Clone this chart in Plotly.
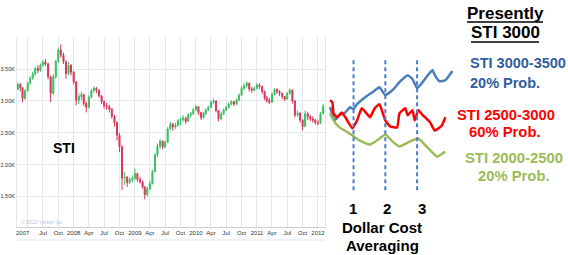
import plotly.graph_objects as go

W, H = 568, 255

def fx(px):
    return px / W

def fy(py):
    return 1 - py / H

# ---------------- STI candlestick data (semi-monthly) ----------------
dates = [
    "2007-02-01", "2007-02-16", "2007-03-01", "2007-03-16", "2007-04-01", "2007-04-16",
    "2007-05-01", "2007-05-16", "2007-06-01", "2007-06-16", "2007-07-01", "2007-07-16",
    "2007-08-01", "2007-08-16", "2007-09-01", "2007-09-16", "2007-10-01", "2007-10-16",
    "2007-11-01", "2007-11-16", "2007-12-01", "2007-12-16",
    "2008-01-01", "2008-01-16", "2008-02-01", "2008-02-16", "2008-03-01", "2008-03-16",
    "2008-04-01", "2008-04-16", "2008-05-01", "2008-05-16", "2008-06-01", "2008-06-16",
    "2008-07-01", "2008-07-16", "2008-08-01", "2008-08-16", "2008-09-01", "2008-09-16",
    "2008-10-01", "2008-10-16", "2008-11-01", "2008-11-16", "2008-12-01", "2008-12-16",
    "2009-01-01", "2009-01-16", "2009-02-01", "2009-02-16", "2009-03-01", "2009-03-16",
    "2009-04-01", "2009-04-16", "2009-05-01", "2009-05-16", "2009-06-01", "2009-06-16",
    "2009-07-01", "2009-07-16", "2009-08-01", "2009-08-16", "2009-09-01", "2009-09-16",
    "2009-10-01", "2009-10-16", "2009-11-01", "2009-11-16", "2009-12-01", "2009-12-16",
    "2010-01-01", "2010-01-16", "2010-02-01", "2010-02-16", "2010-03-01", "2010-03-16",
    "2010-04-01", "2010-04-16", "2010-05-01", "2010-05-16", "2010-06-01", "2010-06-16",
    "2010-07-01", "2010-07-16", "2010-08-01", "2010-08-16", "2010-09-01", "2010-09-16",
    "2010-10-01", "2010-10-16", "2010-11-01", "2010-11-16", "2010-12-01", "2010-12-16",
    "2011-01-01", "2011-01-16", "2011-02-01", "2011-02-16", "2011-03-01", "2011-03-16",
    "2011-04-01", "2011-04-16", "2011-05-01", "2011-05-16", "2011-06-01", "2011-06-16",
    "2011-07-01", "2011-07-16", "2011-08-01", "2011-08-16", "2011-09-01", "2011-09-16",
    "2011-10-01", "2011-10-16", "2011-11-01", "2011-11-16", "2011-12-01", "2011-12-16",
    "2012-01-01", "2012-01-16", "2012-02-01",
]
closes = [
    3260, 3210, 3040, 3160, 3280, 3360, 3420, 3510, 3480, 3560, 3610, 3580,
    3380, 3120, 3380, 3620, 3800, 3720, 3620, 3430, 3560, 3450,
    3300, 3010, 3070, 3100, 2960, 2900, 3060, 3160, 3200, 3170, 3080, 2990,
    2930, 2910, 2870, 2760, 2660, 2460, 2280, 1790, 1800, 1720, 1760, 1780,
    1860, 1770, 1730, 1650, 1530, 1620, 1700, 1890, 2150, 2290, 2370, 2280,
    2350, 2560, 2640, 2590, 2620, 2690, 2710, 2730, 2680, 2780, 2800, 2860,
    2910, 2820, 2740, 2800, 2860, 2900, 2980, 3000, 2850, 2720, 2800, 2860,
    2900, 2950, 2990, 2950, 3010, 3090, 3200, 3240, 3280, 3190, 3170, 3200,
    3250, 3230, 3150, 3050, 3010, 2980, 3100, 3180, 3150, 3120, 3070, 3030,
    3120, 3170, 3000, 2780, 2810, 2700, 2600, 2800, 2750, 2720, 2700, 2660,
    2650, 2800, 2920,
]
highs = [
    3290, 3280, 3220, 3190, 3300, 3390, 3460, 3540, 3560, 3590, 3640, 3660,
    3600, 3400, 3420, 3650, 3840, 3890, 3760, 3640, 3610, 3580,
    3470, 3310, 3120, 3150, 3110, 2990, 3090, 3190, 3230, 3220, 3180, 3090,
    3010, 2970, 2940, 2890, 2780, 2680, 2500, 2300, 1880, 1820, 1800, 1830,
    1940, 1870, 1810, 1750, 1660, 1660, 1750, 1920, 2180, 2330, 2400, 2380,
    2380, 2590, 2670, 2650, 2660, 2720, 2740, 2780, 2750, 2810, 2830, 2890,
    2940, 2920, 2830, 2830, 2880, 2930, 3010, 3040, 3010, 2860, 2830, 2880,
    2930, 2980, 3010, 3000, 3040, 3120, 3230, 3280, 3310, 3290, 3220, 3230,
    3280, 3280, 3240, 3160, 3080, 3050, 3130, 3200, 3200, 3170, 3130, 3080,
    3140, 3200, 3180, 3010, 2850, 2820, 2710, 2850, 2830, 2780, 2760, 2720,
    2700, 2830, 2950,
]
lows = [
    3170, 3150, 2980, 3020, 3150, 3260, 3330, 3400, 3440, 3460, 3540, 3550,
    3340, 2980, 3100, 3350, 3600, 3680, 3580, 3350, 3410, 3400,
    3260, 2930, 2950, 3020, 2920, 2820, 2880, 3040, 3130, 3120, 3050, 2950,
    2880, 2860, 2820, 2720, 2600, 2380, 2200, 1600, 1680, 1650, 1690, 1720,
    1760, 1730, 1700, 1620, 1455, 1500, 1600, 1690, 1880, 2120, 2250, 2240,
    2260, 2340, 2540, 2530, 2560, 2600, 2620, 2670, 2640, 2670, 2740, 2780,
    2850, 2780, 2700, 2720, 2780, 2840, 2890, 2950, 2820, 2680, 2700, 2780,
    2840, 2880, 2930, 2920, 2940, 3000, 3080, 3170, 3210, 3150, 3130, 3150,
    3180, 3190, 3110, 3010, 2970, 2950, 2970, 3090, 3110, 3080, 3030, 3000,
    3020, 3100, 2960, 2740, 2750, 2660, 2540, 2590, 2700, 2680, 2660, 2630,
    2620, 2640, 2790,
]
first_open = 3180
opens = [first_open] + closes[:-1]

y_tick_vals = [1500, 2000, 2500, 3000, 3500, 4000]
y_tick_text = ["1.50K", "2.00K", "2.50K", "3.00K", "3.50K", ""]

x_tick_vals = [
    "2007-04-01", "2007-07-01", "2007-10-01", "2008-01-01", "2008-04-01", "2008-07-01",
    "2008-10-01", "2009-01-01", "2009-04-01", "2009-07-01", "2009-10-01", "2010-01-01",
    "2010-04-01", "2010-07-01", "2010-10-01", "2011-01-01", "2011-04-01", "2011-07-01",
    "2011-10-01", "2012-01-01",
]
x_tick_text = [
    "", "Jul", "Oct", "2008", "Apr", "Jul", "Oct", "2009", "Apr", "Jul", "Oct", "2010",
    "Apr", "Jul", "Oct", "2011", "Apr", "Jul", "Oct", "2012",
]

# ---------------- Projection scenarios (weeks ahead, STI level) ----------------
blue_weeks = [0, 4, 8, 13, 17, 20, 23, 31, 37, 42, 47, 54, 59, 66, 70, 74, 78, 87, 89, 93, 98, 104]
blue_vals = [2905, 2700, 2775, 2820, 2900, 2870, 2950, 3075, 3150, 3215, 3090, 3185,
             3295, 3405, 3345, 3200, 3280, 3485, 3405, 3310, 3325, 3470]

red_weeks = [0, 2, 3, 6, 10, 13, 19, 23, 27, 31, 34, 38, 42, 47, 51, 57, 59, 64, 66,
             70, 72, 75, 79, 85, 89, 95, 98]
red_vals = [3010, 2980, 2805, 2745, 2820, 2745, 2570, 2695, 2885, 2805, 2745, 2885,
            2950, 2695, 2600, 2585, 2805, 2885, 2775, 2855, 2695, 2855, 2775, 2665,
            2535, 2615, 2745]

green_weeks = [0, 3, 8, 14, 20, 25, 34, 41, 47, 53, 59, 68, 75, 82, 91, 98]
green_vals = [2805, 2695, 2585, 2520, 2445, 2380, 2315, 2395, 2475, 2365, 2285, 2365,
              2410, 2285, 2125, 2205]

dca_weeks = [20, 47, 74]
dca_labels = ["1", "2", "3"]
dca_top = 3640
dca_bottom = 1590

fig = go.Figure()

fig.add_trace(go.Candlestick(
    x=dates, open=opens, high=highs, low=lows, close=closes,
    increasing=dict(line=dict(color="#3DBE63", width=1), fillcolor="#3DBE63"),
    decreasing=dict(line=dict(color="#D6385A", width=1), fillcolor="#D6385A"),
    xaxis="x", yaxis="y", showlegend=False,
))

for wk, vals, col in [(blue_weeks, blue_vals, "#4A7EBB"),
                      (red_weeks, red_vals, "#FF0000"),
                      (green_weeks, green_vals, "#9BBB59")]:
    fig.add_trace(go.Scatter(
        x=wk, y=vals, mode="lines", line=dict(color=col, width=2.5, shape="spline", smoothing=0.4),
        xaxis="x2", yaxis="y2", showlegend=False, hoverinfo="skip",
    ))

for w in dca_weeks:
    fig.add_trace(go.Scatter(
        x=[w, w], y=[dca_top, dca_bottom], mode="lines",
        line=dict(color="#4A7EC4", width=2, dash="4px,3px"),
        xaxis="x2", yaxis="y2", showlegend=False, hoverinfo="skip",
    ))

grid = "#E2E8EF"
fig.update_layout(
    width=W, height=H, margin=dict(l=0, r=0, t=0, b=0),
    paper_bgcolor="white", plot_bgcolor="white",
    xaxis=dict(
        domain=[fx(17), fx(325)], type="date", range=["2007-01-27", "2012-02-12"],
        tickvals=x_tick_vals, ticktext=x_tick_text, showgrid=True, gridcolor=grid,
        gridwidth=1, ticks="", showline=True, linecolor="#C8D0D8", linewidth=1,
        tickfont=dict(family="Liberation Sans Narrow, Liberation Sans", size=6, color="#333"),
        rangeslider=dict(visible=False), zeroline=False, anchor="y",
    ),
    yaxis=dict(
        domain=[fy(227), fy(37)], range=[1020, 4005], tickvals=y_tick_vals,
        ticktext=y_tick_text, showgrid=True, gridcolor=grid, gridwidth=1, ticks="",
        showline=True, mirror=True, linecolor=grid, zeroline=False,
        tickfont=dict(family="Liberation Sans Narrow, Liberation Sans", size=5.5, color="#333"),
        anchor="x",
    ),
    xaxis2=dict(domain=[fx(325), 1], range=[-4.25, 202.2], visible=False, anchor="y2"),
    yaxis2=dict(domain=[fy(227), fy(37)], range=[1020, 4005], visible=False, anchor="x2"),
)

annotations = []

def add_text(text, x, y, size, color="black", xanchor="center", family="Liberation Sans, Arial"):
    annotations.append(dict(
        text=text, x=fx(x), y=fy(y), xref="paper", yref="paper", showarrow=False,
        xanchor=xanchor, yanchor="middle", font=dict(family=family, size=size, color=color),
    ))

add_text("2007", 23, 233, 6, "#333", family="Liberation Sans Narrow, Liberation Sans")
add_text("\u00a9 2012 Yahoo! Inc.", 19, 222, 5, "#B5C5D6", xanchor="left",
         family="Liberation Sans Narrow, Liberation Sans")
add_text("<b>STI</b>", 64, 148, 14, "black", family="Liberation Sans Narrow, Liberation Sans")

add_text("<b>Presently</b>", 505, 13, 17)
add_text("<b>STI 3000</b>", 505, 33, 17)

add_text("<b>STI 3000-3500</b>", 468, 63, 14.5, "#2F5E9E", xanchor="left")
add_text("<b>20% Prob.</b>", 468, 83, 14.5, "#2F5E9E", xanchor="left")
add_text("<b>STI 2500-3000</b>", 506, 115, 14.8, "#FF0000")
add_text("<b>60% Prob.</b>", 505, 132, 14.8, "#FF0000")
add_text("<b>STI 2000-2500</b>", 514, 158, 14.8, "#9BBB59")
add_text("<b>20% Prob.</b>", 514, 176, 14.8, "#9BBB59")

for lbl, xp in zip(dca_labels, [353, 387, 422]):
    add_text("<b>" + lbl + "</b>", xp, 208, 15)
add_text("<b>Dollar Cost</b>", 382, 227, 15)
add_text("<b>Averaging</b>", 382, 245, 15)

fig.update_layout(annotations=annotations)

shapes = [
    dict(type="line", xref="paper", yref="paper", x0=fx(467), x1=fx(543), y0=fy(22), y1=fy(22),
         line=dict(color="black", width=1.5)),
    dict(type="line", xref="paper", yref="paper", x0=fx(471), x1=fx(539), y0=fy(42), y1=fy(42),
         line=dict(color="black", width=1.5)),
    dict(type="line", xref="paper", yref="paper", x0=fx(17), x1=fx(325), y0=fy(240), y1=fy(240),
         line=dict(color="#DDE3EA", width=1)),
]
fig.update_layout(shapes=shapes)

fig.write_html("out.html")
